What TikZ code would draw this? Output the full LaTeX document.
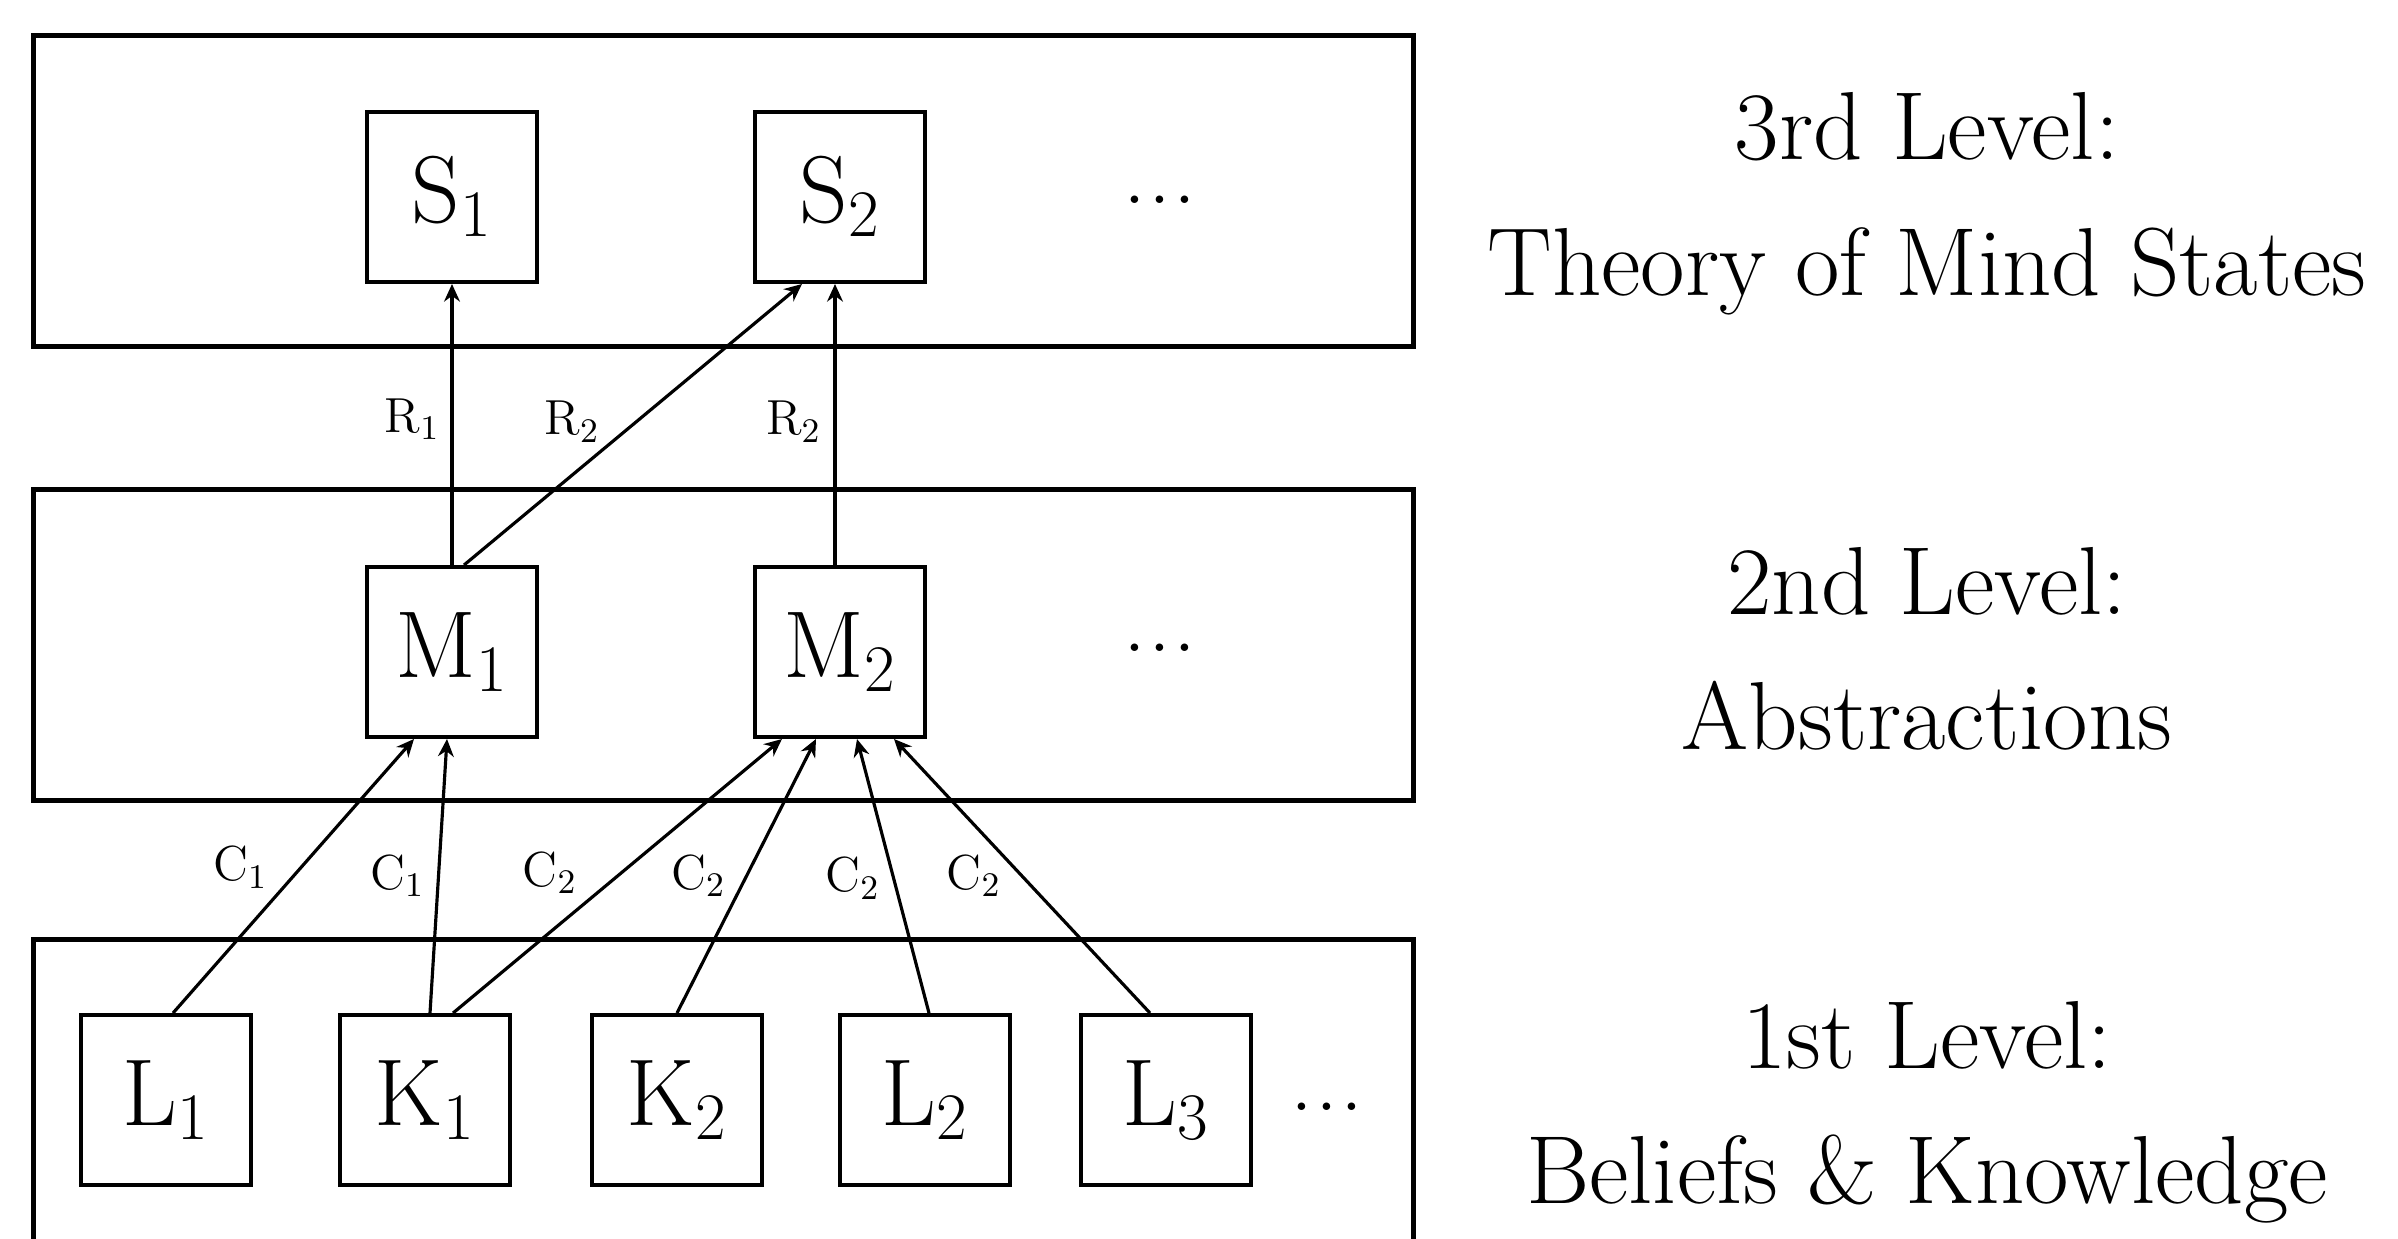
\RequirePackage{fix-cm}
\documentclass[tikz,border=0pt]{standalone}
\usepackage{tikz}
\usetikzlibrary{arrows.meta,positioning}

\begin{document}
\begin{tikzpicture}[
  x=0.01cm,y=-0.01cm,
  zone/.style={draw,line width=1.4pt,inner sep=0pt,minimum width=13.79cm},
  nbox/.style={draw,line width=1.1pt,inner sep=0pt,minimum size=1.7cm,
    font=\fontsize{27}{30}\selectfont},
  arr/.style={-{Stealth[length=5pt,width=4.5pt]},line width=0.9pt},
  lbl/.style={font=\fontsize{14}{16}\selectfont,inner sep=0pt},
  dots/.style={font=\fontsize{26}{28}\selectfont,inner sep=0pt},
  lvl/.style={font=\fontsize{27.5}{30}\selectfont,anchor=base,inner sep=0pt}
]
\clip (0,0) rectangle (2398,1238);
% level frames
\node[zone,minimum height=3.1cm] (zS) at (723.5,191) {};
\node[zone,minimum height=3.1cm] (zM) at (723.5,645) {};
\node[zone,minimum height=4.0cm] (zL) at (723.5,1140) {};
% 3rd level
\node[nbox] (S1) at (452,197) {$\mathrm{S}_1$};
\node[nbox] (S2) at (840,197) {$\mathrm{S}_2$};
\node[dots] (dS) at (1160,200) {.\kern0.6pt.\kern0.6pt.};
% 2nd level
\node[nbox] (M1) at (452,652) {$\mathrm{M}_1$};
\node[nbox] (M2) at (840,652) {$\mathrm{M}_2$};
\node[dots] (dM) at (1160,648) {.\kern0.6pt.\kern0.6pt.};
% 1st level
\node[nbox] (L1) at (166,1100) {$\mathrm{L}_1$};
\node[nbox] (K1) at (425,1100) {$\mathrm{K}_1$};
\node[nbox] (K2) at (677,1100) {$\mathrm{K}_2$};
\node[nbox] (L2) at (925,1100) {$\mathrm{L}_2$};
\node[nbox] (L3) at (1166,1100) {$\mathrm{L}_3$};
\node[dots] (dL) at (1327,1107) {.\kern0.6pt.\kern0.6pt.};
% R links
\draw[arr] (M1.north) -- (S1.south)
  node[lbl,pos=0.52,left=3pt]{$\mathrm{R}_1$};
\draw[arr] ([xshift=0.12cm]M1.north) -- ([xshift=-0.38cm]S2.south)
  node[lbl,pos=0.51,left=10pt]{$\mathrm{R}_2$};
\draw[arr] ([xshift=-0.05cm]M2.north) -- ([xshift=-0.05cm]S2.south)
  node[lbl,pos=0.51,left=3.5pt]{$\mathrm{R}_2$};
% C links
\draw[arr] ([xshift=0.07cm]L1.north) -- ([xshift=-0.38cm]M1.south)
  node[lbl,pos=0.53,left=9pt]{$\mathrm{C}_1$};
\draw[arr] ([xshift=0.05cm]K1.north) -- ([xshift=-0.05cm]M1.south)
  node[lbl,pos=0.5,left=3.5pt]{$\mathrm{C}_1$};
\draw[arr] ([xshift=0.28cm]K1.north) -- ([xshift=-0.58cm]M2.south)
  node[lbl,pos=0.51,left=12pt]{$\mathrm{C}_2$};
\draw[arr] (K2.north) -- ([xshift=-0.24cm]M2.south)
  node[lbl,pos=0.5,left=5.5pt]{$\mathrm{C}_2$};
\draw[arr] ([xshift=0.04cm]L2.north) -- ([xshift=0.17cm]M2.south)
  node[lbl,pos=0.49,left=3.5pt]{$\mathrm{C}_2$};
\draw[arr] ([xshift=-0.16cm]L3.north) -- ([xshift=0.54cm]M2.south)
  node[lbl,pos=0.5,left=5.5pt]{$\mathrm{C}_2$};
% level captions
\node[lvl] (t3a) at (1927,159) {3rd Level:};
\node[lvl] (t3b) at (1927,295) {Theory of Mind States};
\node[lvl] (t2a) at (1927,614) {2nd Level:};
\node[lvl] (t2b) at (1927,749) {Abstractions};
\node[lvl] (t1a) at (1927,1068) {1st Level:};
\node[lvl] (t1b) at (1927,1203) {Beliefs \& Knowledge};
\end{tikzpicture}
\end{document}
